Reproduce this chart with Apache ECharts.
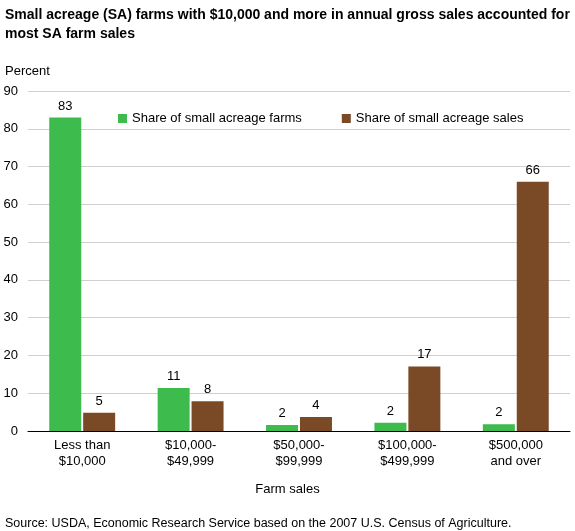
<!DOCTYPE html>
<html><head><meta charset="utf-8">
<script src="https://cdn.jsdelivr.net/npm/echarts@6/dist/echarts.min.js"></script>
<style>html,body{margin:0;padding:0;background:#fff}#c{width:575px;height:531px}</style>
</head><body><div id="c"></div>
<script>
const categories = ['Less than\n$10,000', '$10,000-\n$49,999', '$50,000-\n$99,999', '$100,000-\n$499,999', '$500,000\nand over'];
const farmsShare = [83, 11.4, 1.6, 2.2, 1.8];
const salesShare = [4.8, 7.9, 3.7, 17.1, 66];
const farmsLabels = [83, 11, 2, 2, 2];
const salesLabels = [5, 8, 4, 17, 66];
const yTicks = [0, 10, 20, 30, 40, 50, 60, 70, 80, 90];
const font = 'Arial, Liberation Sans, sans-serif';
const chart = echarts.init(document.getElementById('c'));
chart.setOption({
  animation: false,
  textStyle: {fontFamily: font},
  title: [
    {text: 'Small acreage (SA) farms with $10,000 and more in annual gross sales accounted for\nmost SA farm sales', left: 0, top: 1, textStyle: {fontSize: 14, fontWeight: 'bold', color: '#000', lineHeight: 19, fontFamily: font}},
    {text: 'Percent', left: 0, top: 60, textStyle: {fontSize: 13, fontWeight: 'normal', color: '#000', fontFamily: font}},
    {text: 'Farm sales', left: 'center', top: 478, textStyle: {fontSize: 13, fontWeight: 'normal', color: '#000', fontFamily: font}},
    {text: 'Source: USDA, Economic Research Service based on the 2007 U.S. Census of Agriculture.', left: 0, top: 512, textStyle: {fontSize: 12.5, fontWeight: 'normal', color: '#000', fontFamily: font}}
  ],
  legend: {top: 107, left: 113, itemWidth: 9, itemHeight: 9, itemGap: 40, icon: 'rect', textStyle: {fontSize: 13, color: '#000', fontFamily: font},
    data: ['Share of small acreage farms', 'Share of small acreage sales']},
  grid: {left: 28, right: 5, top: 91, bottom: 100, containLabel: false},
  xAxis: {type: 'category', data: categories, axisTick: {show: false}, axisLine: {lineStyle: {color: '#000'}},
    axisLabel: {color: '#000', fontSize: 13, lineHeight: 16, margin: 6, interval: 0}},
  yAxis: {type: 'value', min: 0, max: 90, interval: 10, axisLine: {show: false}, axisTick: {show: false},
    splitLine: {lineStyle: {color: '#d0d0d0'}},
    axisLabel: {color: '#000', fontSize: 13, margin: 10, formatter: v => yTicks.includes(v) ? String(v) : ''}},
  series: [
    {name: 'Share of small acreage farms', type: 'bar', data: farmsShare, barWidth: 32, barGap: '6%', itemStyle: {color: '#3dbb4c'},
      label: {show: true, position: 'top', color: '#000', fontSize: 13, formatter: p => farmsLabels[p.dataIndex]}},
    {name: 'Share of small acreage sales', type: 'bar', data: salesShare, barWidth: 32, itemStyle: {color: '#7a4a26'},
      label: {show: true, position: 'top', color: '#000', fontSize: 13, formatter: p => salesLabels[p.dataIndex]}}
  ]
});
</script></body></html>
